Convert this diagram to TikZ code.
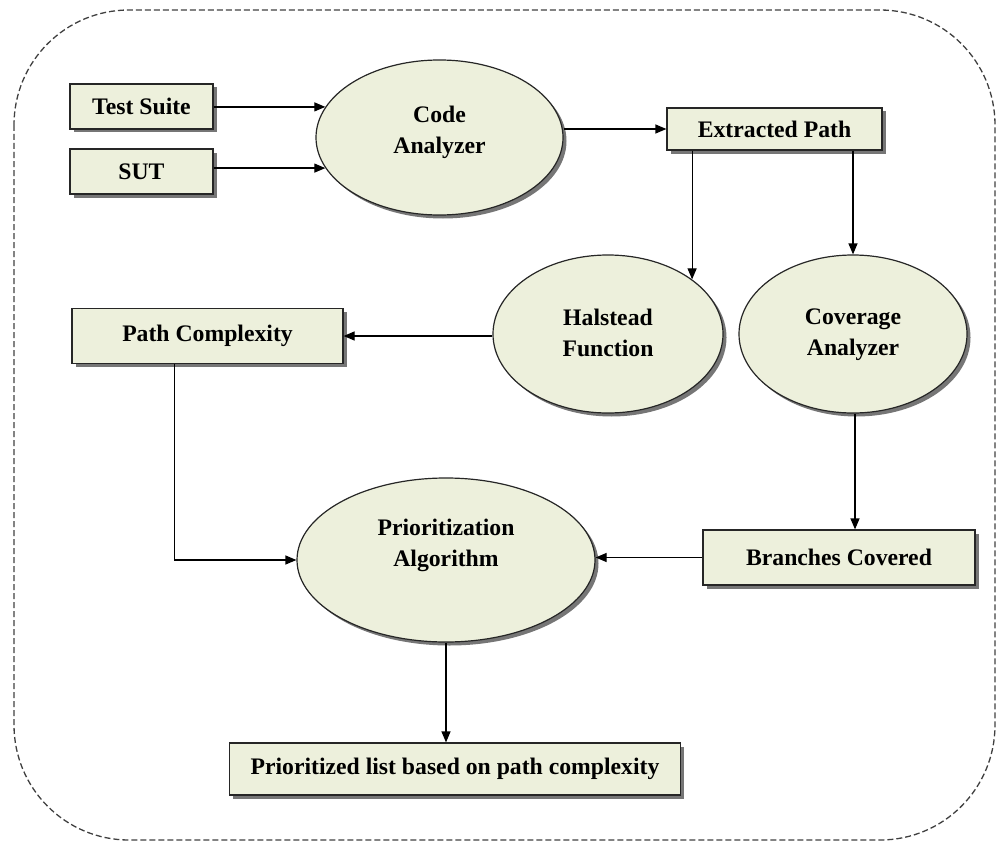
\documentclass[tikz,border=0pt]{standalone}
\usepackage{fontspec}
\setmainfont{Liberation Serif}
\usetikzlibrary{shapes.geometric,shadows,arrows.meta}
\definecolor{boxfill}{HTML}{EDF0DC}
\definecolor{shadowgray}{HTML}{5E5E5E}
\begin{document}
\begin{tikzpicture}[x=1pt,y=-1pt,
  txt/.style={font=\fontsize{23.7}{31}\selectfont\bfseries, text=black, align=center},
  boxnode/.style={draw=black!85, line width=1.2pt, fill=boxfill, inner sep=0pt,
     drop shadow={shadow xshift=3.5pt, shadow yshift=-3.5pt, fill=shadowgray, opacity=0.85},
     txt},
  ellnode/.style={ellipse, draw=black!85, line width=1.2pt, fill=boxfill, inner sep=0pt,
     drop shadow={shadow xshift=3.5pt, shadow yshift=-3.5pt, fill=shadowgray, opacity=0.85}},
  arr/.style={line width=1.2pt, -{Triangle[length=11pt,width=9pt]}},
  ln/.style={line width=1.2pt}]
\useasboundingbox (0,0) rectangle (1001,848);
% outer dashed border
\draw[dash pattern=on 6pt off 3pt, line width=1.3pt, black!75, rounded corners=115pt]
  (14,10) rectangle (995,840);
% boxes
\node[boxnode, minimum width=143pt, minimum height=45pt] (ts) at (141.5,106.5) {Test Suite};
\node[boxnode, minimum width=143pt, minimum height=45pt] (sut) at (141.5,171.5) {SUT};
\node[boxnode, minimum width=215pt, minimum height=42pt] (ep) at (774.5,129) {Extracted Path};
\node[boxnode, minimum width=271pt, minimum height=55pt] (pc) at (207.5,336) {Path Complexity};
\node[boxnode, minimum width=272pt, minimum height=55pt] (bc) at (839,557.5) {Branches Covered};
\node[boxnode, minimum width=451pt, minimum height=52pt] (pl) at (455,769) {Prioritized list based on path complexity};
% ellipses
\node[ellnode, minimum width=247pt, minimum height=155pt] (ca) at (439.5,137.5) {};
\node[txt] (catx) at (439.5,132) {Code\\Analyzer};
\node[ellnode, minimum width=230pt, minimum height=158pt] (hf) at (608,334) {};
\node[txt] (hftx) at (608,333) {Halstead\\Function};
\node[ellnode, minimum width=228pt, minimum height=158pt] (cv) at (853,334) {};
\node[txt] (cvtx) at (853,335) {Coverage\\Analyzer};
\node[ellnode, minimum width=298pt, minimum height=164pt] (pa) at (446,560) {};
\node[txt] (patx) at (446,545) {Prioritization\\Algorithm};
% connectors
\draw[arr] (ca.165 -| ts.east) -- (ca.165);
\draw[arr] (ca.195 -| sut.east) -- (ca.195);
\draw[arr] (ep.west -| ca.east) -- (ep.west);
\draw[arr] (hf.33.4 |- ep.south) -- (hf.33.4);
\draw[arr] (cv.north |- ep.south) -- (cv.north);
\draw[arr] (pc.east -| hf.west) -- (pc.east);
\draw[arr] ([xshift=103pt]pc.south west) |- (pa.west);
\draw[arr] ([xshift=2pt]cv.south) -- ([xshift=2pt]cv.south |- bc.north);
\draw[arr] (bc.west) -- (bc.west -| pa.east);
\draw[arr] (pa.south) -- (pa.south |- pl.north);
\end{tikzpicture}
\end{document}
